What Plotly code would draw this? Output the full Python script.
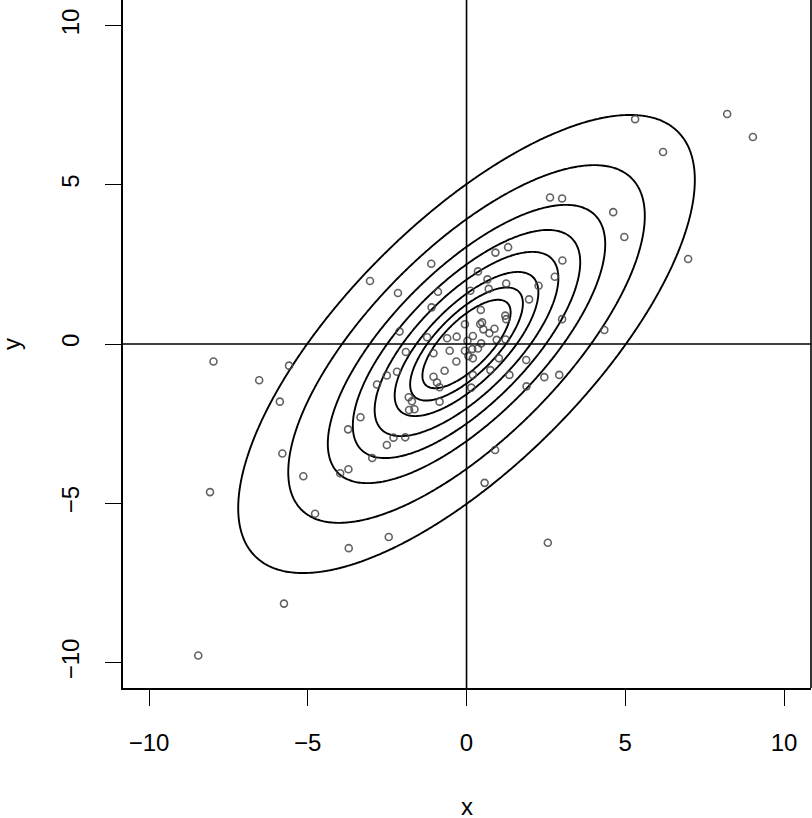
import numpy as np
import plotly.graph_objects as go

# ── Data ───────────────────────────────────────────────────────────────────────
x_pts = [8.21, 9.02, 5.31, 6.19, 4.62, 4.97, 6.98, 4.34, 2.63, 3.01,
         0.91, 1.31, 3.02, 2.78, 0.66, 1.25, 2.27, 0.70, 1.97, 0.45,
         1.22, 1.25, 3.01, 0.49, 0.53, 0.88, 0.72, 0.46, 0.95, 1.23,
         -1.11, 0.36, 0.12, -0.90, -2.16, -1.10, -0.05, 0.43, -2.11, -1.24,
         -0.61, -0.31, 0.03, 0.20, -3.04, -0.53, -0.05, 0.18, 0.36, -0.32,
         1.02, -0.69, 0.75, 1.88, 0.20, 1.35, -1.91, -1.04, 0.06, 0.20,
         -1.04, -0.93, -0.85, -2.51, -2.19, 0.15, -1.82, -1.72, -0.85, -1.81,
         -1.64, -2.30, -1.93, -2.51, 0.90, 2.45, 2.92, 1.89, 0.57, 2.56,
         -7.97, -5.59, -6.53, -5.88, -2.82, -3.34, -3.73, -5.80, -2.97, -3.72,
         -3.98, -5.14, -8.08, -4.77, -3.71, -5.75, -8.45, -2.45]
y_pts = [7.22, 6.50, 7.06, 6.03, 4.14, 3.36, 2.67, 0.44, 4.60, 4.57,
         2.87, 3.04, 2.62, 2.11, 2.03, 1.90, 1.83, 1.73, 1.40, 1.07,
         0.89, 0.78, 0.78, 0.68, 0.46, 0.48, 0.34, 0.02, 0.13, 0.14,
         2.52, 2.28, 1.67, 1.64, 1.60, 1.15, 0.62, 0.63, 0.39, 0.21,
         0.18, 0.23, 0.10, 0.25, 1.98, -0.21, -0.21, -0.16, -0.14, -0.55,
         -0.45, -0.84, -0.82, -0.50, -0.97, -0.97, -0.25, -0.29, -0.38, -0.45,
         -1.03, -1.21, -1.36, -0.99, -0.87, -1.37, -1.67, -1.80, -1.81, -2.07,
         -2.05, -2.94, -2.93, -3.17, -3.33, -1.04, -0.97, -1.33, -4.36, -6.24,
         -0.55, -0.68, -1.14, -1.81, -1.27, -2.30, -2.68, -3.44, -3.58, -3.93,
         -4.06, -4.15, -4.65, -5.33, -6.41, -8.15, -9.78, -6.06]

# elliptical contours: correlation and where each contour crosses the x axis
rho = 0.716
x_cross = [5.02, 3.92, 3.05, 2.50, 2.02, 1.58, 1.24, 0.97]

x_ticks = [-10, -5, 0, 5, 10]
y_ticks = [-10, -5, 0, 5, 10]

FONT = "Liberation Sans, Arial, sans-serif"
PLOT_W, PLOT_H = 688, 688   # plot area in px (812 - 123 - 1, 818 - 130)

# quadratic form on a grid; a contour at q = c^2 crosses y=0 at x = ±c
gx = np.linspace(-10.8, 10.8, 361)
gy = np.linspace(-10.8, 10.8, 361)
X, Y = np.meshgrid(gx, gy)
Q = X * X - 2 * rho * X * Y + Y * Y

fig = go.Figure()

for c in x_cross:
    lev = c * c
    fig.add_trace(go.Contour(
        x=gx, y=gy, z=Q,
        autocontour=False,
        contours=dict(start=lev, end=lev, size=1, coloring="lines"),
        colorscale=[[0, "black"], [1, "black"]],
        line=dict(width=1.9, smoothing=1.3),
        showscale=False, hoverinfo="skip",
    ))

fig.add_trace(go.Scatter(
    x=x_pts, y=y_pts, mode="markers",
    marker=dict(symbol="circle-open", size=7, color="rgba(70,70,70,0.85)",
                line=dict(width=1.6)),
    hoverinfo="skip", showlegend=False,
))

# reference lines through the origin
fig.add_shape(type="line", xref="x", yref="paper", x0=0, x1=0, y0=0, y1=1,
              line=dict(color="black", width=1.6))
fig.add_shape(type="line", xref="paper", yref="y", x0=0, x1=1, y0=0, y1=0,
              line=dict(color="black", width=1.6))
# right edge of the box (top edge is cut off in the reference)
fig.add_shape(type="line", xref="paper", yref="paper", x0=1, x1=1, y0=0, y1=1,
              line=dict(color="black", width=1.6))

# axis titles as annotations so they can sit right at the page edge
fig.add_annotation(text="x", xref="paper", yref="paper",
                   x=0.5, y=-(806 - PLOT_H) / PLOT_H, yanchor="middle",
                   showarrow=False, font=dict(family=FONT, size=24, color="black"))
fig.add_annotation(text="y", xref="paper", yref="paper", textangle=-90,
                   x=-(123 - 11) / PLOT_W, y=0.5, xanchor="center",
                   showarrow=False, font=dict(family=FONT, size=24, color="black"))

axis_common = dict(
    showgrid=False, zeroline=False, automargin=False,
    showline=True, linecolor="black", linewidth=1.6,
    ticks="outside", ticklen=16, tickwidth=1.3, tickcolor="black",
    tickfont=dict(family=FONT, size=24, color="black"),
)

fig.update_layout(
    width=812, height=818,
    margin=dict(l=123, r=1, t=0, b=130),
    paper_bgcolor="white", plot_bgcolor="white",
    showlegend=False,
    xaxis=dict(range=[-10.82, 10.85], tickvals=x_ticks, ticklabelstandoff=16,
               **axis_common),
    yaxis=dict(range=[-10.8, 10.8], tickvals=y_ticks, tickangle=-90,
               ticklabelstandoff=17, **axis_common),
)

# the page body has a default 8px margin; drop it so the figure fills the window
fig.write_html("out.html", config={"displayModeBar": False},
               post_script="document.body.style.margin='0';")
